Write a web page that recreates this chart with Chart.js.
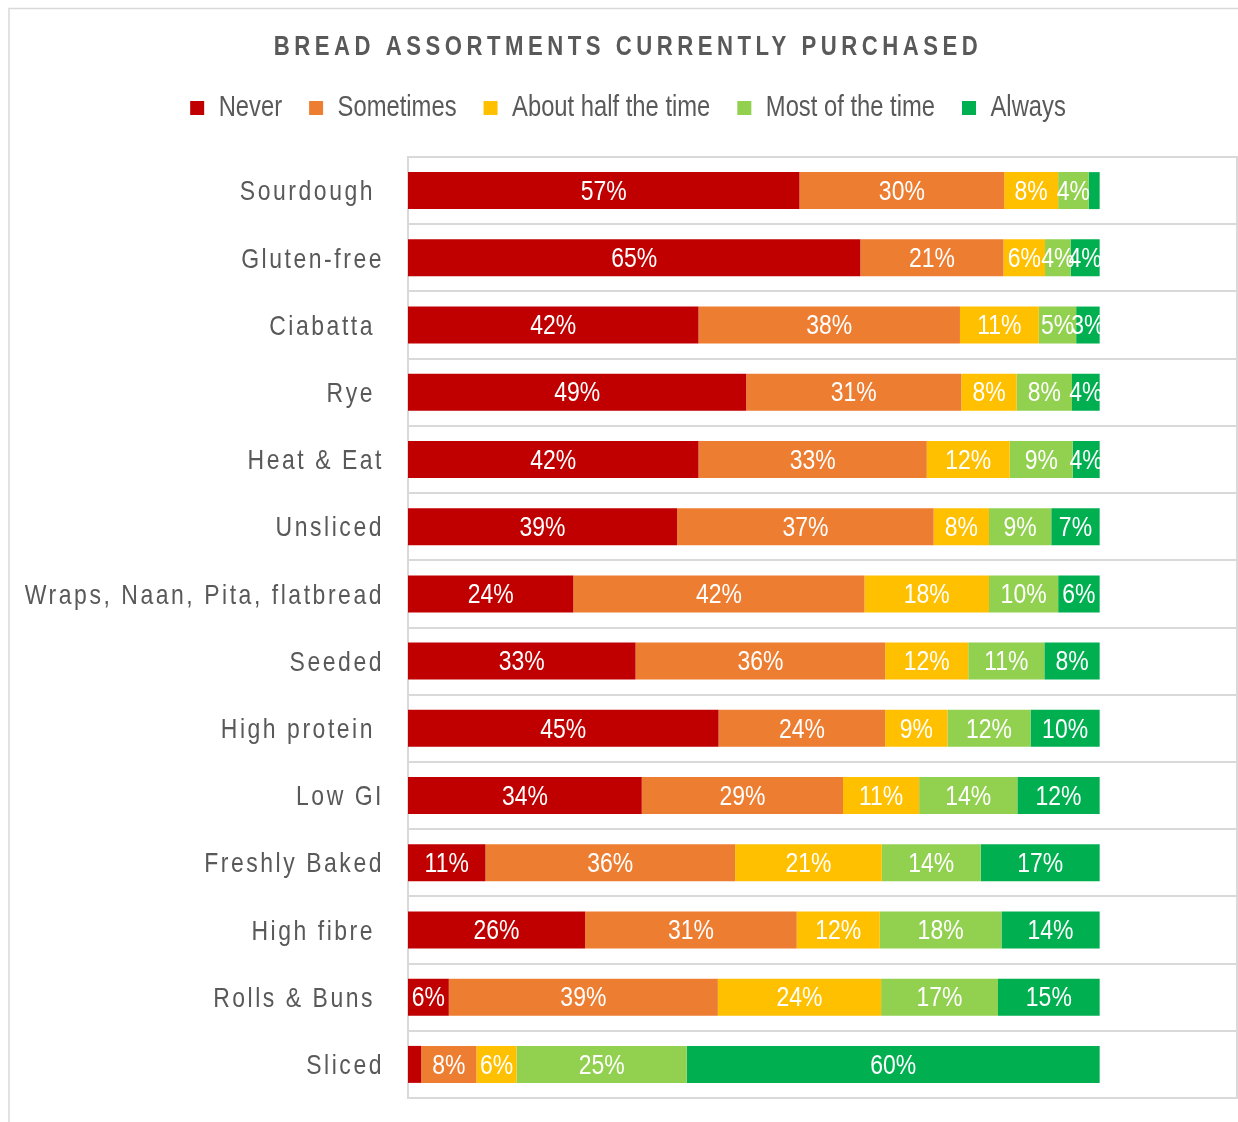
<!DOCTYPE html>
<html>
<head>
<meta charset="utf-8">
<script src="https://cdn.jsdelivr.net/npm/chart.js@4.4.1/dist/chart.umd.min.js"></script>
<style>
  html, body { margin: 0; padding: 0; background: #ffffff; }
  #wrap { width: 1238px; height: 1122px; position: relative; }
</style>
</head>
<body>
<div id="wrap"><canvas id="chart"></canvas></div>
<script>
// Bread types, top to bottom
const categories = ['Sourdough ', 'Gluten-free', 'Ciabatta ', 'Rye ', 'Heat & Eat', 'Unsliced',
  'Wraps, Naan, Pita, flatbread', 'Seeded', 'High protein ', 'Low GI', 'Freshly Baked',
  'High fibre ', 'Rolls & Buns ', 'Sliced'];

// Share of shoppers (%) for each purchase frequency
const never      = [56.6, 65.4, 42.0, 48.9, 42.0, 38.9, 23.9, 32.9, 44.9, 33.8, 11.2, 25.6, 5.9, 1.9];
const sometimes  = [29.6, 20.7, 37.8, 31.1, 33.0, 37.1, 42.1, 36.1, 24.1, 29.1, 36.1, 30.6, 38.9, 8.0];
const aboutHalf  = [7.8, 6.0, 11.4, 8.0, 12.0, 8.0, 18.0, 12.0, 9.0, 11.0, 21.2, 12.0, 23.6, 5.8];
const mostOfTime = [4.4, 3.7, 5.4, 8.0, 9.1, 9.0, 10.0, 11.0, 12.0, 14.2, 14.3, 17.6, 16.9, 24.6];
const always     = [1.6, 4.2, 3.4, 4.0, 3.9, 7.0, 6.0, 8.0, 10.0, 11.9, 17.2, 14.2, 14.7, 59.7];

const seriesNames = ['Never', 'Sometimes', 'About half the time', 'Most of the time', 'Always'];
const seriesValues = [never, sometimes, aboutHalf, mostOfTime, always];
const seriesColors = ['#C00000', '#ED7D31', '#FFC000', '#92D050', '#00B050'];

const FONT = "'Liberation Sans', Arial, sans-serif";
const TEXT_GREY = '#595959';
const LINE_GREY = '#d9d9d9';

// Narrow text: every string on this canvas is drawn and measured
// horizontally condensed, giving an Arial-Narrow style face.
const NARROW = 0.82;
const canvas = document.getElementById('chart');
const ctx2d = canvas.getContext('2d');
const rawFill = ctx2d.fillText.bind(ctx2d);
const rawMeasure = ctx2d.measureText.bind(ctx2d);
ctx2d.fillText = function (text, x, y, maxWidth) {
  this.save();
  this.translate(x, y);
  this.scale(NARROW, 1);
  if (maxWidth !== undefined) rawFill(text, 0, 0, maxWidth / NARROW);
  else rawFill(text, 0, 0);
  this.restore();
};
ctx2d.measureText = function (text) {
  const m = rawMeasure(text);
  return {
    width: m.width * NARROW,
    actualBoundingBoxAscent: m.actualBoundingBoxAscent,
    actualBoundingBoxDescent: m.actualBoundingBoxDescent,
    actualBoundingBoxLeft: m.actualBoundingBoxLeft * NARROW,
    actualBoundingBoxRight: m.actualBoundingBoxRight * NARROW
  };
};

// Frame, plot outline and letter-spaced title / category labels
const framePlugin = {
  id: 'framePlugin',
  beforeDraw(chart) {
    const ctx = chart.ctx;
    ctx.save();
    ctx.strokeStyle = LINE_GREY;
    ctx.lineWidth = 1.5;
    ctx.strokeRect(9, 8.5, 1600, 1600);
    ctx.restore();

    const yScale = chart.scales.y;
    if (yScale && !yScale._spaced) {
      const orig = yScale.drawLabels;
      yScale.drawLabels = function (area) {
        ctx.save();
        ctx.letterSpacing = '3.1px';
        orig.call(this, area);
        ctx.restore();
      };
      yScale._spaced = true;
    }
    const title = chart.titleBlock;
    if (title && !title._spaced) {
      const origT = title.draw;
      title.draw = function () {
        ctx.save();
        ctx.letterSpacing = '5.5px';
        origT.call(this);
        ctx.restore();
      };
      title._spaced = true;
    }
  },
  beforeDatasetsDraw(chart) {
    const { ctx, chartArea } = chart;
    ctx.save();
    ctx.strokeStyle = LINE_GREY;
    ctx.lineWidth = 2;
    ctx.beginPath();
    ctx.moveTo(chartArea.right - 1, chartArea.top);
    ctx.lineTo(chartArea.right - 1, chartArea.bottom);
    ctx.stroke();
    ctx.restore();
  }
};

// Percentage labels centred in each segment
const segmentLabels = {
  id: 'segmentLabels',
  afterDatasetsDraw(chart) {
    const ctx = chart.ctx;
    ctx.save();
    ctx.letterSpacing = '0px';
    ctx.font = `28px ${FONT}`;
    ctx.fillStyle = '#ffffff';
    ctx.textAlign = 'center';
    ctx.textBaseline = 'middle';
    chart.data.datasets.forEach((ds, i) => {
      const meta = chart.getDatasetMeta(i);
      meta.data.forEach((bar, j) => {
        const v = ds.data[j];
        if (v < 2) return;
        const p = bar.getProps(['x', 'y', 'base'], true);
        ctx.fillText(Math.round(v) + '%', (p.x + p.base) / 2, p.y + 1.5);
      });
    });
    ctx.restore();
  }
};

new Chart(canvas, {
  type: 'bar',
  data: {
    labels: categories,
    datasets: seriesNames.map((name, i) => ({
      label: name,
      data: seriesValues[i],
      backgroundColor: seriesColors[i],
      borderWidth: 0,
      categoryPercentage: 1,
      barPercentage: 0.55
    }))
  },
  options: {
    indexAxis: 'y',
    responsive: true,
    maintainAspectRatio: false,
    animation: false,
    layout: { padding: { top: 8, left: 18, right: 0, bottom: 24 } },
    plugins: {
      title: {
        display: true,
        text: 'BREAD ASSORTMENTS CURRENTLY PURCHASED',
        color: TEXT_GREY,
        font: { family: FONT, size: 27, weight: 'bold', lineHeight: 1.2 },
        padding: { top: 23, bottom: 3 }
      },
      legend: {
        position: 'top',
        labels: {
          font: { family: FONT, size: 29 },
          color: TEXT_GREY,
          boxWidth: 14,
          boxHeight: 14,
          padding: 27
        }
      },
      tooltip: { enabled: false }
    },
    scales: {
      x: {
        stacked: true,
        min: 0,
        max: 120,
        position: 'top',
        ticks: { display: false },
        grid: { display: false, drawTicks: false },
        border: { display: false },
        afterFit(s) { s.height = 24.6; }
      },
      y: {
        stacked: true,
        grid: { color: LINE_GREY, lineWidth: 2, drawTicks: false },
        border: { display: true, color: LINE_GREY, width: 2 },
        ticks: { color: TEXT_GREY, font: { family: FONT, size: 28 }, padding: 24, labelOffset: 2 },
        afterFit(s) {
          s.width = 390;
          s.paddingTop = 0;
          s.paddingBottom = 0;
        }
      }
    }
  },
  plugins: [framePlugin, segmentLabels]
});
</script>
</body>
</html>
